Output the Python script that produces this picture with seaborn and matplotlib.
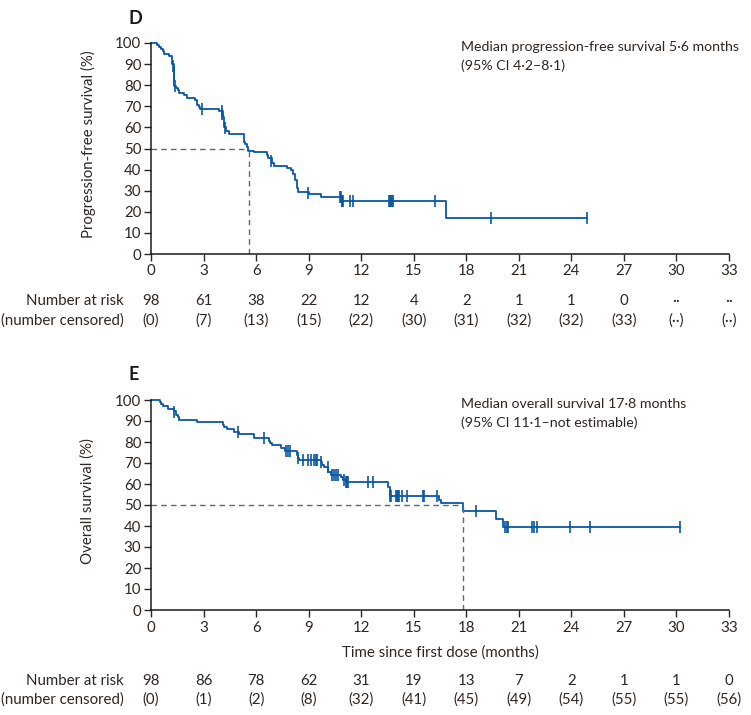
import matplotlib
matplotlib.use("Agg")
import matplotlib.pyplot as plt
import matplotlib.transforms as mtransforms
import seaborn as sns
import pandas as pd

# ---------------- data ----------------
pfs_t = [0, 0.32, 0.48, 0.57, 0.67, 0.72, 1.03, 1.18, 1.31, 1.33, 1.43, 1.52, 1.62, 1.90, 2.03,
         2.53, 2.60, 2.72, 2.81, 3.86, 4.09, 4.14, 4.28, 4.43, 5.32, 5.38, 5.46, 5.51, 5.86, 6.60,
         6.69, 6.88, 7.03, 7.74, 8.02, 8.12, 8.23, 8.33, 8.42, 9.04, 9.68, 10.86, 16.82, 24.9]
pfs_s = [100, 99.0, 98.0, 97.0, 96.0, 95.0, 94.0, 90.0, 85.8, 79.5, 78.6, 77.6, 76.5, 75.3, 74.0,
         73.0, 70.8, 69.7, 68.7, 67.6, 65.0, 60.4, 58.1, 56.8, 53.3, 52.1, 50.9, 49.0, 48.3, 46.7,
         45.4, 43.0, 41.5, 40.7, 39.6, 38.0, 35.1, 31.2, 29.6, 28.4, 26.9, 25.3, 16.9, 16.9]
pfs_cens_t = [1.25, 1.30, 1.32, 1.36, 2.89, 4.03, 4.07, 4.24, 6.86, 8.97, 10.80, 10.84, 10.88,
              10.92, 10.97, 11.38, 11.53, 13.57, 13.66, 13.72, 13.78, 13.83, 16.23, 19.39, 24.9]
pfs_cens_s = [89.2, 85.8, 85.0, 79.5, 68.7, 67.6, 66.5, 59.6, 44.0, 29.0, 26.9, 26.9, 25.3,
              25.3, 25.3, 25.3, 25.3, 25.3, 25.3, 25.3, 25.3, 25.3, 25.3, 16.9, 16.9]

os_t = [0, 0.51, 0.57, 0.70, 0.99, 1.33, 1.43, 1.52, 1.62, 2.60, 4.09, 4.18, 4.33, 4.75, 5.0,
        5.89, 6.75, 6.81, 6.90, 7.41, 7.64, 8.31, 8.37, 8.46, 9.70, 9.75, 9.85, 10.13, 10.27,
        10.84, 10.97, 11.12, 13.52, 13.62, 13.66, 16.47, 16.53, 17.81, 19.71, 20.09, 30.23]
os_s = [100, 98.9, 98.0, 97.0, 95.9, 94.8, 93.0, 91.7, 90.5, 89.4, 88.3, 87.2, 86.0, 85.0, 83.9,
        82.0, 80.3, 79.4, 78.5, 77.1, 75.7, 73.8, 72.5, 71.5, 70.3, 69.2, 67.9, 65.9, 64.3,
        63.3, 62.1, 60.8, 58.6, 56.5, 54.4, 52.2, 50.9, 47.3, 43.2, 39.4, 39.4]
os_cens_t = [1.33, 4.98, 6.48, 7.70, 7.83, 7.93, 8.42, 8.65, 8.97, 9.13, 9.32, 9.41, 9.47, 9.70,
             10.08, 10.32, 10.46, 10.55, 10.68, 11.03, 11.15, 11.20, 11.27, 12.40, 12.66, 13.63,
             13.68, 14.00, 14.05, 14.10, 14.15, 14.34, 14.61, 15.52, 15.56, 16.32, 18.57, 20.23,
             20.30, 20.40, 21.75, 21.88, 22.03, 23.90, 25.05, 30.23]
os_cens_s = [94.3, 85.0, 82.0, 75.7, 75.7, 75.7, 72.5, 71.5, 71.5, 71.5, 71.5, 71.5, 71.5, 70.3,
             67.9, 64.3, 64.3, 64.3, 64.3, 62.1, 60.8, 60.8, 60.8, 60.8, 60.8, 54.4,
             54.4, 54.4, 54.4, 54.4, 54.4, 54.4, 54.4, 54.4, 54.4, 54.4, 47.3, 39.4,
             39.4, 39.4, 39.4, 39.4, 39.4, 39.4, 39.4, 39.4]

pfs_median = 5.6
os_median = 17.8

x_ticks = [0, 3, 6, 9, 12, 15, 18, 21, 24, 27, 30, 33]
y_ticks = [0, 10, 20, 30, 40, 50, 60, 70, 80, 90, 100]

pfs_risk = ["98", "61", "38", "22", "12", "4", "2", "1", "1", "0", "··", "··"]
pfs_cens_n = ["(0)", "(7)", "(13)", "(15)", "(22)", "(30)", "(31)", "(32)", "(32)", "(33)", "(··)", "(··)"]
os_risk = ["98", "86", "78", "62", "31", "19", "13", "7", "2", "1", "1", "0"]
os_cens_n = ["(0)", "(1)", "(2)", "(8)", "(32)", "(41)", "(45)", "(49)", "(54)", "(55)", "(55)", "(56)"]

# ---------------- style ----------------
sns.set_theme(style="ticks")
plt.rcParams['font.family'] = ['Lato', 'DejaVu Sans']
TXT = '#2e2622'
LINE = '#0a57a3'
DASH = '#4f6b7e'
FS = 10.8
FS_ANN = 10.2
plt.rcParams.update({
    'text.color': TXT, 'axes.labelcolor': TXT, 'xtick.color': TXT, 'ytick.color': TXT,
    'axes.edgecolor': '#1a1a1a', 'font.size': FS,
})

W, H = 751, 715
fig = plt.figure(figsize=(W / 100, H / 100), dpi=100)


def fy(py):
    return 1 - py / H


def panel(top_px, bottom_px, t, s, ct, cs, median, ylabel, label, ann1, ann2,
          risk, censn, tick_y, risk_y1, risk_y2, xlabel=None, xlabel_y=None):
    left, right = 151 / W, 729 / W
    ax = fig.add_axes([left, fy(bottom_px), right - left, fy(top_px) - fy(bottom_px)])
    df = pd.DataFrame({'t': t, 's': s})
    sns.lineplot(data=df, x='t', y='s', ax=ax, drawstyle='steps-post', estimator=None,
                 color=LINE, linewidth=1.3, clip_on=False)
    cdf = pd.DataFrame({'t': ct, 's': cs})
    sns.scatterplot(data=cdf, x='t', y='s', ax=ax, marker='|', s=70, linewidth=1.2,
                    color=LINE, clip_on=False, zorder=3)
    ax.plot([0, median], [50, 50], ls=(0, (4, 3)), color=DASH, lw=1.0)
    ax.plot([median, median], [0, 50], ls=(0, (4, 3)), color=DASH, lw=1.0)
    ax.set_xlim(0, 33)
    ax.set_ylim(0, 100)
    ax.set_xticks(x_ticks)
    ax.set_yticks(y_ticks)
    ax.set_xticklabels([])
    ax.tick_params(axis='both', direction='out', length=5, width=1.0, labelsize=FS, pad=2)
    sns.despine(ax=ax)
    for sp in ['left', 'bottom']:
        ax.spines[sp].set_linewidth(1.1)
    ax.set_xlabel('')
    ax.set_ylabel('')
    trans = mtransforms.blended_transform_factory(ax.transData, fig.transFigure)
    for xv, r, c in zip(x_ticks, risk, censn):
        ax.text(xv, fy(tick_y), str(xv), transform=trans, ha='center', va='center',
                fontsize=FS, color=TXT)
        ax.text(xv, fy(risk_y1), r, transform=trans, ha='center', va='center',
                fontsize=FS, color=TXT)
        ax.text(xv, fy(risk_y2), c, transform=trans, ha='center', va='center',
                fontsize=FS, color=TXT)
    fig.text(124 / W, fy(risk_y1), 'Number at risk', ha='right', va='center', fontsize=FS)
    fig.text(124 / W, fy(risk_y2), '(number censored)', ha='right', va='center', fontsize=FS)
    fig.text(88 / W, fy((top_px + bottom_px) / 2 - 4), ylabel, rotation=90, ha='center',
             va='center', fontsize=FS)
    fig.text(128 / W, fy(top_px - 25), label, ha='left', va='center', fontsize=13,
             fontweight='bold', color='#1a1a1a')
    fig.text(461 / W, fy(top_px + 4), ann1, ha='left', va='center', fontsize=FS_ANN)
    fig.text(461 / W, fy(top_px + 23), ann2, ha='left', va='center', fontsize=FS_ANN)
    if xlabel:
        fig.text(440 / W, fy(xlabel_y), xlabel, ha='center', va='center', fontsize=FS)
    return ax


panel(43, 254, pfs_t, pfs_s, pfs_cens_t, pfs_cens_s, pfs_median,
      'Progression-free survival (%)', 'D',
      'Median progression-free survival 5·6 months', '(95% CI 4·2–8·1)',
      pfs_risk, pfs_cens_n, 271, 301, 321)
panel(400, 610, os_t, os_s, os_cens_t, os_cens_s, os_median,
      'Overall survival (%)', 'E',
      'Median overall survival 17·8 months', '(95% CI 11·1–not estimable)',
      os_risk, os_cens_n, 628, 681, 700, xlabel='Time since first dose (months)', xlabel_y=653)

fig.savefig('out.png', dpi=100)
